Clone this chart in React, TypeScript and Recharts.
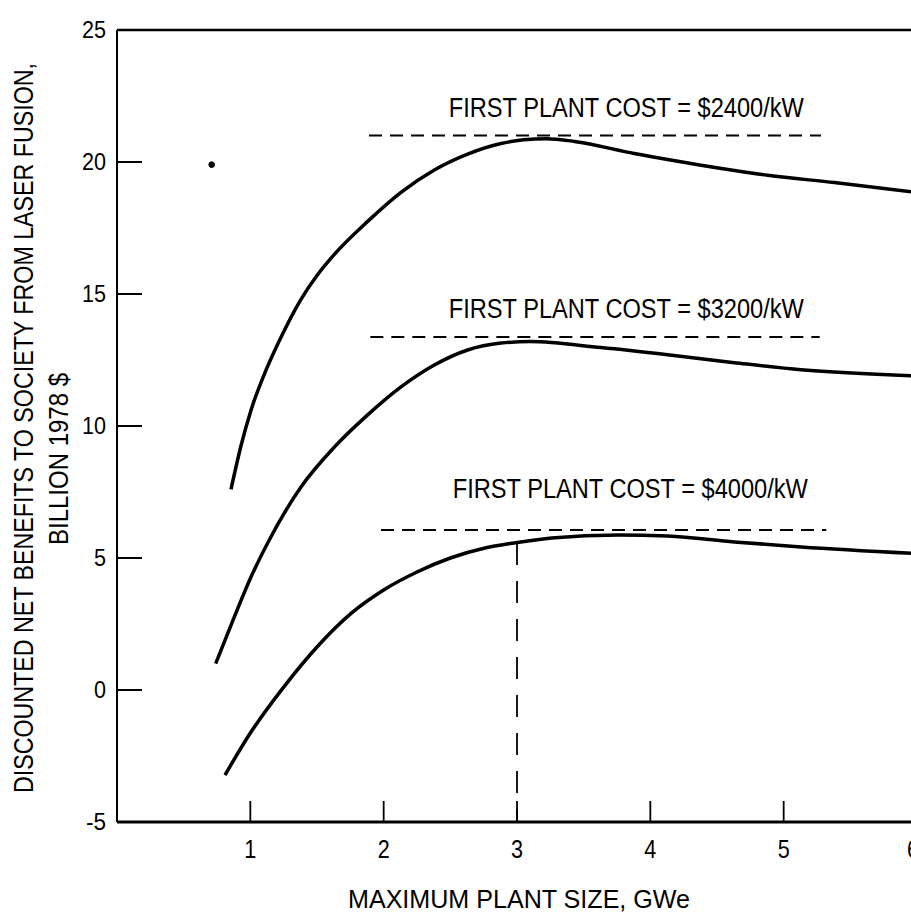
import React from 'react';
import { LineChart, Line, XAxis, YAxis, ReferenceLine, ReferenceDot } from 'recharts';

const FONT = "'Liberation Sans Narrow', 'Liberation Sans', Arial, sans-serif";

const xTicks = [1, 2, 3, 4, 5, 6];
const yTicks = [-5, 0, 5, 10, 15, 20, 25];

const cost2400X = [0.855, 0.93, 1.005, 1.1, 1.21, 1.38, 1.5, 1.63, 1.88, 2.13, 2.38, 2.63, 2.88, 3.05, 3.22, 3.43, 3.88, 4.38, 4.88, 5.38, 6.0];
const cost2400Y = [7.6, 9.25, 10.6, 11.9, 13.15, 14.8, 15.7, 16.5, 17.75, 18.85, 19.7, 20.3, 20.7, 20.84, 20.88, 20.78, 20.32, 19.88, 19.5, 19.22, 18.85];

const cost3200X = [0.74, 0.88, 1.005, 1.13, 1.38, 1.63, 1.88, 2.13, 2.38, 2.63, 2.88, 3.1, 3.63, 4.13, 4.63, 5.13, 6.0];
const cost3200Y = [1.0, 2.77, 4.28, 5.57, 7.69, 9.2, 10.42, 11.48, 12.31, 12.88, 13.14, 13.2, 12.97, 12.7, 12.4, 12.13, 11.9];

const cost4000X = [0.81, 1.0, 1.25, 1.5, 1.76, 2.0, 2.25, 2.5, 2.76, 2.98, 3.26, 3.76, 4.13, 4.63, 5.13, 6.0];
const cost4000Y = [-3.22, -1.63, 0.11, 1.63, 2.92, 3.79, 4.47, 5.0, 5.38, 5.57, 5.76, 5.87, 5.83, 5.61, 5.42, 5.17];

const costLabels = ['FIRST PLANT COST = $2400/kW', 'FIRST PLANT COST = $3200/kW', 'FIRST PLANT COST = $4000/kW'];
const labelX = [3.82, 3.82, 3.85];
const labelY = [21.7, 14.09, 7.27];

const optimumY = [21.0, 13.37, 6.06];
const optimumStart = [1.89, 1.9, 1.98];
const optimumEnd = [5.28, 5.27, 5.32];

const markerX = 3;
const markerTop = 5.57;
const markerBottom = -5;

const strayDotX = 0.71;
const strayDotY = 19.9;

const toPoints = (xs: number[], ys: number[]) => xs.map((x, i) => ({ x, y: ys[i] }));
const series = [toPoints(cost2400X, cost2400Y), toPoints(cost3200X, cost3200Y), toPoints(cost4000X, cost4000Y)];

const YTick = (props: any) => {
  const { x, y, payload } = props;
  const v = payload.value;
  const s = String(v);
  const w = s === '-5' ? 20 : s.length * 12;
  return (
    <g>
      {v > -5 && v < 25 && <line x1={x} x2={x + 25} y1={y} y2={y} stroke="#000" strokeWidth={2} />}
      <text
        x={x - 11}
        y={y + 8}
        textAnchor="end"
        fontSize={24}
        fontFamily={FONT}
        fill="#000"
        textLength={w}
        lengthAdjust="spacingAndGlyphs"
      >
        {s}
      </text>
    </g>
  );
};

const XTick = (props: any) => {
  const { x, y, payload } = props;
  const v = payload.value;
  return (
    <g>
      {v < 6 && <line x1={x} x2={x} y1={y - 21} y2={y} stroke="#000" strokeWidth={1.8} />}
      <text
        x={v === 6 ? x - 4 : x}
        y={y + 36}
        textAnchor="middle"
        fontSize={25}
        fontFamily={FONT}
        fill="#000"
        textLength={12}
        lengthAdjust="spacingAndGlyphs"
      >
        {String(v)}
      </text>
    </g>
  );
};

const makeLabelShape = (text: string) => (props: any) => (
  <text
    x={props.cx}
    y={props.cy}
    textAnchor="middle"
    fontSize={27}
    fontFamily={FONT}
    fill="#000"
    textLength={355}
    lengthAdjust="spacingAndGlyphs"
  >
    {text}
  </text>
);

export default function App() {
  return (
    <div style={{ position: 'absolute', left: 0, top: 0, width: 911, height: 913, overflow: 'hidden', background: '#fff' }}>
      <LineChart width={930} height={913} margin={{ top: 30, right: 13, bottom: 31, left: 37 }}>
        <XAxis
          type="number"
          dataKey="x"
          domain={[0, 6]}
          ticks={xTicks}
          interval={0}
          allowDataOverflow
          tickSize={0}
          tickMargin={0}
          tickLine={false}
          height={60}
          axisLine={{ stroke: '#000', strokeWidth: 3 }}
          tick={<XTick />}
        />
        <YAxis
          type="number"
          dataKey="y"
          domain={[-5, 25]}
          ticks={yTicks}
          interval={0}
          allowDataOverflow
          tickSize={0}
          tickMargin={0}
          tickLine={false}
          width={80}
          axisLine={{ stroke: '#000', strokeWidth: 2 }}
          tick={<YTick />}
        />
        <ReferenceLine y={25} stroke="#000" strokeWidth={2.5} />
        {optimumY.map((yv, i) => (
          <ReferenceLine
            key={'opt' + i}
            segment={[{ x: optimumStart[i], y: yv }, { x: optimumEnd[i], y: yv }]}
            stroke="#000"
            strokeWidth={2}
            strokeDasharray="13 8"
          />
        ))}
        <ReferenceLine
          segment={[{ x: markerX, y: markerTop }, { x: markerX, y: markerBottom }]}
          stroke="#000"
          strokeWidth={1.8}
          strokeDasharray="22 16"
        />
        {series.map((d, i) => (
          <Line
            key={'s' + i}
            data={d}
            dataKey="y"
            type="monotone"
            dot={false}
            stroke="#000"
            strokeWidth={3.5}
            isAnimationActive={false}
          />
        ))}
        {costLabels.map((t, i) => (
          <ReferenceDot key={'lbl' + i} x={labelX[i]} y={labelY[i]} r={0} shape={makeLabelShape(t)} />
        ))}
        <ReferenceDot x={strayDotX} y={strayDotY} r={2.8} fill="#000" stroke="#000" />
      </LineChart>
      <svg width={911} height={913} style={{ position: 'absolute', left: 0, top: 0, pointerEvents: 'none' }}>
        <text
          transform="translate(33,428) rotate(-90)"
          textAnchor="middle"
          fontSize={27}
          fontFamily={FONT}
          fill="#000"
          textLength={730}
          lengthAdjust="spacingAndGlyphs"
        >
          DISCOUNTED NET BENEFITS TO SOCIETY FROM LASER FUSION,
        </text>
        <text
          transform="translate(68,459) rotate(-90)"
          textAnchor="middle"
          fontSize={27}
          fontFamily={FONT}
          fill="#000"
          textLength={172}
          lengthAdjust="spacingAndGlyphs"
        >
          BILLION 1978 $
        </text>
        <text
          x={519}
          y={908}
          textAnchor="middle"
          fontSize={25}
          fontFamily={FONT}
          fill="#000"
          textLength={342}
          lengthAdjust="spacingAndGlyphs"
        >
          MAXIMUM PLANT SIZE, GWe
        </text>
      </svg>
    </div>
  );
}
